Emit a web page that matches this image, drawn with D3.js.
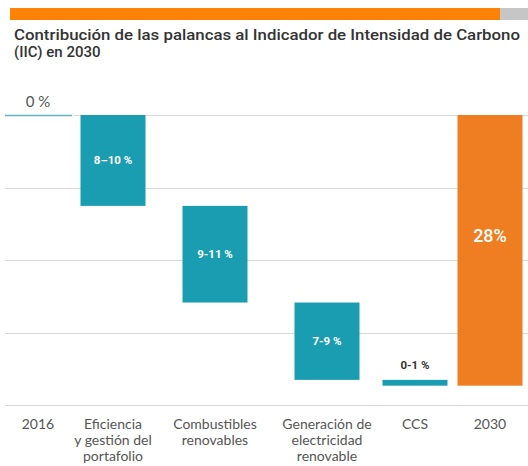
<!DOCTYPE html>
<html>
<head>
<meta charset="utf-8">
<script src="https://cdn.jsdelivr.net/npm/d3@7"></script>
<style>
  body { margin: 0; background: #fff; }
  .canvas { width: 528px; height: 466px; }
</style>
</head>
<body>
<div class="canvas"></div>
<script>
// data
const categories = ['2016', 'Eficiencia', 'Combustibles', 'Generación', 'CCS', '2030'];
const catLabels = [
  ['2016'],
  ['Eficiencia', 'y gestión del', 'portafolio'],
  ['Combustibles', 'renovables'],
  ['Generación de', 'electricidad', 'renovable'],
  ['CCS'],
  ['2030']
];
const steps = [0, 9.4, 10, 8, 0.6, 28];          // % reduction per lever, total at end
const barLabels = ['0 %', '8–10 %', '9-11 %', '7-9 %', '0-1 %', '28%'];
const gridTicks = [0, 7.5, 15, 22.5, 30];

const W = 528, H = 466;
const teal = '#1b9db1', orange = '#ef7d22';

const svg = d3.select('.canvas').append('svg')
  .attr('width', W).attr('height', H);

// top banner
svg.append('rect').attr('x', 10).attr('y', 8).attr('width', 490).attr('height', 12).attr('fill', '#ff8205');
svg.append('rect').attr('x', 500).attr('y', 8).attr('width', 28).attr('height', 12).attr('fill', '#c6c6c6');

// title
const title = svg.append('text')
  .attr('font-family', 'Roboto, sans-serif')
  .attr('font-weight', 500)
  .attr('font-size', 15)
  .attr('fill', '#333');
title.append('tspan').attr('x', 14).attr('y', 40)
  .attr('textLength', 506).attr('lengthAdjust', 'spacingAndGlyphs')
  .text('Contribución de las palancas al Indicador de Intensidad de Carbono');
title.append('tspan').attr('x', 14).attr('y', 57)
  .text('(IIC) en 2030');

// scales
const y = d3.scaleLinear().domain([0, 30]).range([115, 405]);
const x = d3.scaleOrdinal().domain(categories).range([38, 113, 215, 327, 415, 490]);
const bw = 65;

// gridlines
svg.append('g').selectAll('line')
  .data(gridTicks)
  .join('line')
  .attr('x1', d => d === 0 ? 74 : 5)
  .attr('x2', W)
  .attr('y1', d => Math.round(y(d)) + 0.5)
  .attr('y2', d => Math.round(y(d)) + 0.5)
  .attr('stroke', '#d8d8d8')
  .attr('stroke-width', 1.2);

// waterfall rows
let run = 0;
const rows = categories.map((c, i) => {
  let y0, y1;
  if (i === 0) { y0 = 0; y1 = 0; }
  else if (i === categories.length - 1) { y0 = 0; y1 = steps[i]; }
  else { y0 = run; y1 = run + steps[i]; run = y1; }
  return {cat: c, y0, y1, label: barLabels[i], i};
});

// 2016 baseline
svg.append('line')
  .attr('x1', 5).attr('x2', 72)
  .attr('y1', y(0) + 0.5).attr('y2', y(0) + 0.5)
  .attr('stroke', '#5fb3c3').attr('stroke-width', 1.5);
svg.append('text')
  .attr('x', x('2016')).attr('y', 107)
  .attr('text-anchor', 'middle')
  .attr('font-family', 'Lato, sans-serif')
  .attr('font-size', 15)
  .attr('fill', '#555')
  .text(barLabels[0]);

const bars = rows.filter(d => d.i > 0);
svg.append('g').selectAll('rect')
  .data(bars)
  .join('rect')
  .attr('x', d => x(d.cat) - bw / 2)
  .attr('y', d => y(d.y0))
  .attr('width', bw)
  .attr('height', d => y(d.y1) - y(d.y0))
  .attr('fill', d => d.cat === '2030' ? orange : teal);

// bar labels
svg.append('g').selectAll('text')
  .data(bars)
  .join('text')
  .attr('x', d => x(d.cat))
  .attr('y', d => {
    if (d.cat === 'CCS') return y(d.y0) - 11;
    if (d.cat === '2030') return 242;
    return (y(d.y0) + y(d.y1)) / 2 + 4;
  })
  .attr('text-anchor', 'middle')
  .attr('font-family', 'Roboto, sans-serif')
  .attr('font-weight', d => d.cat === '2030' ? 500 : 700)
  .attr('font-size', d => d.cat === '2030' ? 18 : 11.5)
  .attr('fill', d => d.cat === 'CCS' ? '#333' : '#fff')
  .text(d => d.label);

// category labels
const lab = svg.append('g').selectAll('text')
  .data(categories)
  .join('text')
  .attr('text-anchor', 'middle')
  .attr('font-family', 'Lato, sans-serif')
  .attr('font-size', 14)
  .attr('fill', '#555');
lab.each(function(d, i) {
  d3.select(this).selectAll('tspan')
    .data(catLabels[i])
    .join('tspan')
    .attr('x', x(d))
    .attr('y', (t, j) => 429 + j * 16)
    .text(t => t);
});
</script>
</body>
</html>
